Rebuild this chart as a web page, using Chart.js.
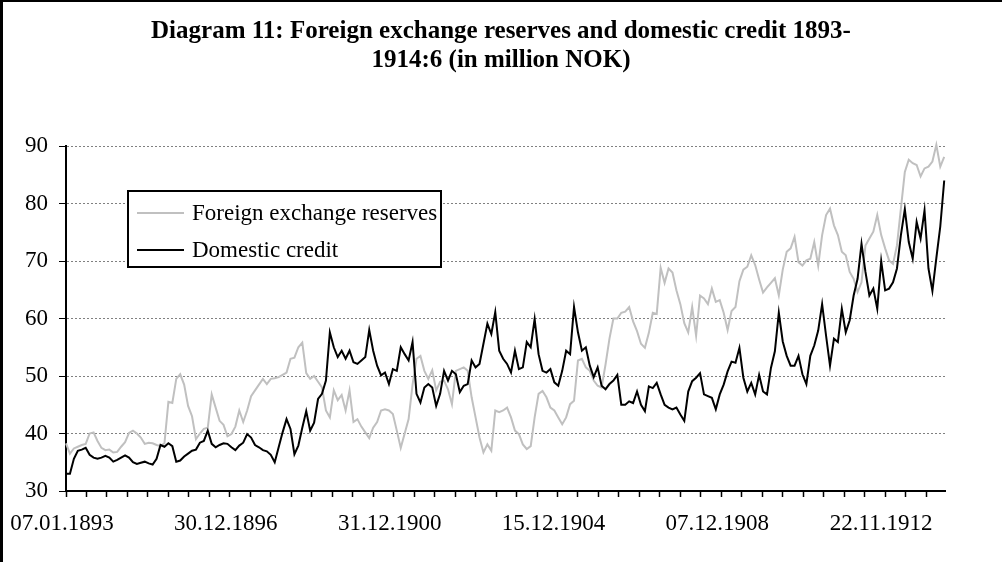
<!DOCTYPE html>
<html>
<head>
<meta charset="utf-8">
<title>Diagram 11</title>
<script src="https://cdn.jsdelivr.net/npm/chart.js@4.4.1/dist/chart.umd.min.js"></script>
<style>
  html, body { margin: 0; padding: 0; background: #fff; }
  canvas { display: block; }
</style>
</head>
<body>
<canvas id="chart" width="1002" height="562"></canvas>
<script>
// Weekly observations, read every 5th week (week 0 = 07.01.1893)
const stepWeeks = 5;
const tickEvery = 26;
const labelEvery = 208;
const dateLabels = ['07.01.1893', '30.12.1896', '31.12.1900', '15.12.1904', '07.12.1908', '22.11.1912'];

const reserves = [
    38.3, 36.5, 37.4, 37.7, 38.0, 38.2, 40.0, 40.2, 38.7, 37.5,
    37.1, 37.2, 36.7, 36.8, 37.7, 38.5, 40.1, 40.5, 40.0, 39.3,
    38.2, 38.4, 38.3, 38.0, 37.8, 38.3, 45.5, 45.3, 49.5, 50.3,
    48.5, 44.8, 43.0, 39.0, 40.0, 40.8, 41.0, 46.8, 44.5, 42.2,
    41.5, 39.5, 39.9, 41.2, 44.0, 42.0, 44.0, 46.5, 47.5, 48.5,
    49.5, 48.6, 49.5, 49.6, 49.8, 50.2, 50.6, 53.0, 53.2, 55.0,
    55.8, 50.5, 49.5, 50.0, 49.0, 48.0, 44.0, 42.8, 47.5, 45.8,
    46.7, 44.0, 47.5, 42.0, 42.5, 41.2, 40.2, 39.2, 41.0, 42.0,
    44.0, 44.2, 44.0, 43.4, 40.5, 37.5, 40.0, 42.5, 48.5, 53.0,
    53.5, 50.9, 49.5, 51.0, 47.5, 49.0, 49.2, 47.7, 45.1, 50.9,
    51.2, 51.5, 50.9, 46.3, 42.8, 39.3, 36.7, 38.1, 37.0, 44.0,
    43.7, 44.0, 44.5, 42.8, 40.5, 39.9, 38.1, 37.3, 37.8, 42.8,
    46.9, 47.4, 46.3, 44.5, 44.0, 42.8, 41.6, 42.8, 45.1, 45.7,
    52.7, 53.0, 51.5, 50.9, 49.2, 48.3, 48.0, 52.0, 56.5, 60.0,
    60.0, 61.0, 61.2, 62.0, 59.5, 57.8, 55.6, 54.9, 57.5, 61.0,
    60.8, 68.8, 66.2, 68.7, 68.0, 64.9, 62.5, 59.2, 57.6, 62.0,
    57.0, 64.0, 63.5, 62.5, 65.2, 62.9, 63.2, 61.0, 58.0, 61.3,
    62.0, 66.5, 68.5, 69.0, 71.0, 69.3, 66.8, 64.5, 65.4, 66.2,
    67.0, 64.0, 68.5, 71.6, 72.2, 74.2, 69.8, 69.2, 70.1, 70.4,
    73.3, 69.2, 74.5, 78.0, 79.1, 76.2, 74.5, 71.6, 71.0, 68.1,
    66.9, 64.6, 66.3, 72.7, 73.9, 75.1, 78.0, 74.5, 72.2, 70.1,
    69.5, 72.7, 79.1, 85.5, 87.6, 87.0, 86.7, 84.7, 86.1, 86.4,
    87.3, 90.2, 86.4, 88.1
];

const credit = [
    33.0, 33.0, 35.6, 37.0, 37.2, 37.5, 36.3, 35.8, 35.6, 35.8,
    36.1, 35.8, 35.1, 35.4, 35.8, 36.2, 35.8, 35.0, 34.7, 34.9,
    35.1, 34.8, 34.6, 35.6, 38.0, 37.7, 38.3, 37.8, 35.1, 35.3,
    36.0, 36.5, 37.0, 37.2, 38.4, 38.7, 40.5, 38.2, 37.6, 38.0,
    38.3, 38.2, 37.6, 37.1, 37.9, 38.4, 39.9, 39.3, 38.0, 37.6,
    37.1, 36.9, 36.3, 35.0, 37.6, 40.2, 42.5, 40.8, 36.4, 37.9,
    41.0, 43.9, 40.5, 41.9, 46.0, 46.9, 49.2, 57.6, 55.0, 53.3,
    54.4, 53.0, 54.4, 52.4, 52.1, 52.7, 53.3, 58.0, 54.4, 51.8,
    50.1, 50.6, 48.6, 51.2, 50.9, 55.0, 53.8, 52.7, 55.9, 46.9,
    45.4, 48.0, 48.6, 48.0, 44.8, 46.9, 50.9, 49.2, 50.9, 50.3,
    47.2, 48.3, 48.6, 52.7, 51.5, 52.1, 55.6, 59.1, 57.3, 61.1,
    54.4, 53.0, 52.1, 50.6, 54.4, 51.2, 51.5, 55.9, 55.0, 59.9,
    53.8, 50.9, 50.6, 51.2, 48.9, 48.3, 50.9, 54.4, 53.8, 62.0,
    57.6, 54.4, 55.0, 51.8, 49.8, 51.5, 48.3, 47.7, 48.6, 49.2,
    50.2, 45.0, 45.0, 45.6, 45.3, 47.3, 45.0, 43.9, 48.2, 47.9,
    48.8, 46.8, 45.0, 44.5, 44.2, 44.5, 43.3, 42.2, 47.3, 49.1,
    49.7, 50.5, 46.8, 46.5, 46.2, 44.2, 46.8, 48.5, 50.8, 52.5,
    52.3, 54.9, 49.7, 47.3, 48.8, 46.8, 50.2, 47.3, 46.8, 51.4,
    54.3, 61.0, 56.0, 53.5, 51.8, 51.8, 53.5, 50.3, 48.6, 53.5,
    55.3, 57.9, 62.5, 57.0, 51.8, 56.5, 55.9, 61.7, 57.6, 59.7,
    64.0, 66.9, 73.0, 68.1, 64.0, 65.2, 61.7, 70.0, 64.9, 65.2,
    66.3, 68.7, 74.5, 79.0, 73.3, 70.4, 76.8, 73.9, 78.8, 68.7,
    64.8, 70.5, 76.0, 84.0
];

const serif = "'Liberation Serif', 'Times New Roman', serif";

function toPoints(values) {
    return values.map((v, i) => ({ x: i * stepWeeks, y: v }));
}

// white page with the black frame on the left and top
const framePlugin = {
    id: 'frame',
    beforeDraw(chart) {
        const ctx = chart.ctx;
        ctx.save();
        ctx.fillStyle = '#fff';
        ctx.fillRect(0, 0, chart.width, chart.height);
        ctx.fillStyle = '#000';
        ctx.fillRect(0, 0, 3, chart.height);
        ctx.fillRect(0, 0, chart.width, 2);
        ctx.restore();
    }
};

// boxed legend sitting inside the plot, like the Excel original
const boxLegend = {
    id: 'boxLegend',
    afterDraw(chart) {
        const ctx = chart.ctx;
        const area = chart.chartArea;
        const left = area.left + 62, top = area.top + 45;
        const w = 313, h = 76;
        ctx.save();
        ctx.fillStyle = '#fff';
        ctx.fillRect(left, top, w, h);
        ctx.lineWidth = 2;
        ctx.strokeStyle = '#000';
        ctx.strokeRect(left, top, w, h);
        ctx.font = '23px ' + serif;
        ctx.textBaseline = 'alphabetic';
        chart.data.datasets.forEach((ds, i) => {
            const y = top + 22 + i * 37;
            ctx.strokeStyle = ds.borderColor;
            ctx.lineWidth = 2;
            ctx.beginPath();
            ctx.moveTo(left + 9, y);
            ctx.lineTo(left + 56, y);
            ctx.stroke();
            ctx.fillStyle = '#000';
            ctx.fillText(ds.label, left + 64, y + 7);
        });
        ctx.restore();
    }
};

new Chart(document.getElementById('chart'), {
    type: 'line',
    data: {
        datasets: [
            {
                label: 'Foreign exchange reserves',
                data: toPoints(reserves),
                borderColor: '#c0c0c0',
                borderWidth: 2,
                pointRadius: 0,
                tension: 0,
                order: 1,
                clip: false
            },
            {
                label: 'Domestic credit',
                data: toPoints(credit),
                borderColor: '#000000',
                borderWidth: 2,
                pointRadius: 0,
                tension: 0,
                order: 0,
                clip: false
            }
        ]
    },
    options: {
        responsive: false,
        animation: false,
        devicePixelRatio: 1,
        // equal side padding keeps the title centred on the page
        layout: { padding: { top: 0, right: 20, bottom: 0, left: 20 } },
        plugins: {
            legend: { display: false },
            tooltip: { enabled: false },
            title: {
                display: true,
                text: ['Diagram 11: Foreign exchange reserves and domestic credit 1893-', '1914:6 (in million NOK)'],
                color: '#000',
                font: { family: serif, size: 25, weight: 'bold', lineHeight: 1.15 },
                padding: { top: 17, bottom: 71.5 }
            }
        },
        scales: {
            x: {
                type: 'linear',
                min: 0,
                max: 1116,
                afterFit(scale) { scale.height = 71; },
                grid: {
                    drawOnChartArea: false,
                    drawTicks: true,
                    tickLength: 6,
                    tickColor: '#000',
                    tickWidth: 1.5
                },
                border: { display: true, color: '#000', width: 2 },
                ticks: {
                    stepSize: tickEvery,
                    includeBounds: false,
                    autoSkip: false,
                    maxRotation: 0,
                    padding: 13,
                    labelOffset: -4,
                    color: '#000',
                    font: { family: serif, size: 23 },
                    callback: (value) => value % labelEvery === 0 ? (dateLabels[value / labelEvery] || '') : ''
                }
            },
            y: {
                min: 30,
                max: 90,
                afterFit(scale) { scale.width = 46; },
                grid: {
                    color: '#808080',
                    lineWidth: 1,
                    tickLength: 7,
                    tickColor: '#000',
                    tickWidth: 1
                },
                border: { display: true, color: '#000', width: 2, dash: [2, 2] },
                ticks: {
                    stepSize: 10,
                    padding: 11,
                    color: '#000',
                    font: { family: serif, size: 23 }
                }
            },
            // empty spacer on the right so the plot ends where the original does
            spacer: {
                type: 'linear',
                position: 'right',
                afterFit(scale) { scale.width = 37; },
                grid: { display: false, drawTicks: false },
                border: { display: false },
                ticks: { display: false }
            }
        }
    },
    plugins: [framePlugin, boxLegend]
});
</script>
</body>
</html>
